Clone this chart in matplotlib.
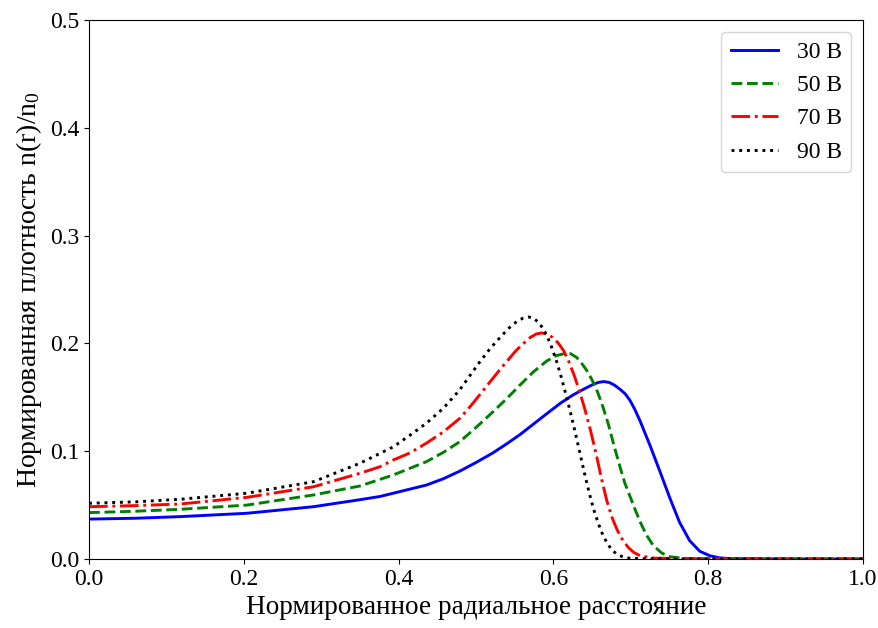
import matplotlib
matplotlib.use("Agg")
import matplotlib.pyplot as plt

plt.rcParams['font.family'] = ['Liberation Serif', 'DejaVu Serif']
plt.rcParams['mathtext.fontset'] = 'custom'
plt.rcParams['mathtext.rm'] = 'Liberation Serif'
plt.rcParams['mathtext.it'] = 'Liberation Serif:italic'

labels = ["30 В", "50 В", "70 В", "90 В"]

x30 = [0.0, 0.06, 0.118, 0.204, 0.29, 0.35, 0.376, 0.393, 0.436, 0.458, 0.479, 0.50,
       0.522, 0.54, 0.557, 0.59, 0.609, 0.625, 0.639, 0.650, 0.658, 0.665, 0.672,
       0.679, 0.686, 0.693, 0.699, 0.705, 0.712, 0.725, 0.738, 0.751, 0.763, 0.776,
       0.789, 0.802, 0.815, 0.83, 0.9, 1.0]
y30 = [0.037, 0.0378, 0.0393, 0.0424, 0.0485, 0.055, 0.058, 0.061, 0.0686, 0.0745,
       0.0815, 0.0895, 0.0985, 0.107, 0.1155, 0.134, 0.1445, 0.152, 0.1575, 0.1615,
       0.1638, 0.1646, 0.1638, 0.1612, 0.1575, 0.153, 0.147, 0.139, 0.128, 0.105,
       0.0805, 0.0555, 0.034, 0.017, 0.0072, 0.003, 0.001, 0.0003, 0.0, 0.0]

x50 = [0.0, 0.06, 0.118, 0.204, 0.29, 0.35, 0.393, 0.436, 0.458, 0.479, 0.50, 0.522,
       0.540, 0.557, 0.574, 0.591, 0.603, 0.614, 0.622, 0.630, 0.636, 0.643, 0.650,
       0.657, 0.664, 0.671, 0.678, 0.685, 0.692, 0.699, 0.706, 0.713, 0.720, 0.729,
       0.740, 0.751, 0.77, 0.85, 1.0]
y50 = [0.043, 0.0443, 0.0461, 0.050, 0.0594, 0.0677, 0.0779, 0.0903, 0.099, 0.1088,
       0.122, 0.1366, 0.149, 0.1615, 0.1735, 0.1835, 0.1885, 0.1905, 0.1905, 0.187,
       0.182, 0.175, 0.166, 0.155, 0.141, 0.125, 0.106, 0.088, 0.071, 0.058, 0.045,
       0.033, 0.0225, 0.0125, 0.0055, 0.002, 0.0005, 0.0, 0.0]

x70 = [0.0, 0.06, 0.118, 0.204, 0.29, 0.35, 0.376, 0.393, 0.415, 0.436, 0.458, 0.479,
       0.492, 0.505, 0.52, 0.533, 0.550, 0.559, 0.570, 0.578, 0.585, 0.592, 0.599,
       0.606, 0.613, 0.620, 0.627, 0.634, 0.641, 0.648, 0.655, 0.662, 0.669, 0.676,
       0.683, 0.690, 0.697, 0.704, 0.712, 0.73, 0.8, 1.0]
y70 = [0.0485, 0.0495, 0.051, 0.0572, 0.067, 0.0795, 0.0856, 0.0918, 0.0985, 0.1075,
       0.118, 0.1305, 0.141, 0.1525, 0.166, 0.1775, 0.192, 0.1985, 0.2055, 0.2088,
       0.2097, 0.2085, 0.2055, 0.2005, 0.1935, 0.183, 0.170, 0.155, 0.138, 0.119,
       0.098, 0.075, 0.054, 0.038, 0.026, 0.017, 0.0105, 0.006, 0.003, 0.0008, 0.0,
       0.0]

x90 = [0.0, 0.06, 0.118, 0.204, 0.29, 0.35, 0.393, 0.415, 0.436, 0.458, 0.479, 0.505,
       0.518, 0.531, 0.543, 0.553, 0.561, 0.568, 0.574, 0.580, 0.586, 0.592, 0.598,
       0.604, 0.610, 0.616, 0.622, 0.628, 0.634, 0.640, 0.646, 0.652, 0.658, 0.664,
       0.670, 0.676, 0.682, 0.690, 0.70, 0.75, 1.0]
y90 = [0.0517, 0.053, 0.0554, 0.061, 0.0717, 0.0888, 0.104, 0.115, 0.126, 0.14,
       0.157, 0.183, 0.195, 0.2055, 0.2145, 0.2205, 0.2235, 0.2245, 0.2235, 0.220,
       0.2145, 0.2065, 0.196, 0.1835, 0.169, 0.153, 0.136, 0.118, 0.099, 0.080,
       0.062, 0.046, 0.033, 0.022, 0.014, 0.008, 0.0045, 0.0018, 0.0005, 0.0, 0.0]

xs = [x30, x50, x70, x90]
ys = [y30, y50, y70, y90]
colors = ["blue", "green", "red", "black"]
styles = ["-", "--", "-.", ":"]

fig = plt.figure(figsize=(8.79, 6.28), dpi=100)
ax = fig.add_axes([0.1013, 0.1099, 0.8805, 0.8582])
for x, y, c, s, l in zip(xs, ys, colors, styles, labels):
    ax.plot(x, y, color=c, linestyle=s, linewidth=2.1, label=l)

ax.set_xlim(0, 1)
ax.set_ylim(0, 0.5)
ax.set_xticks([0.0, 0.2, 0.4, 0.6, 0.8, 1.0])
ax.set_yticks([0.0, 0.1, 0.2, 0.3, 0.4, 0.5])
ax.tick_params(labelsize=17)
ax.set_xlabel("Нормированное радиальное расстояние", fontsize=19.6)
ax.set_ylabel("Нормированная плотность n(r)/n$_0$", fontsize=20)
ax.legend(loc="upper right", fontsize=17)
fig.savefig("out.png", dpi=100)
